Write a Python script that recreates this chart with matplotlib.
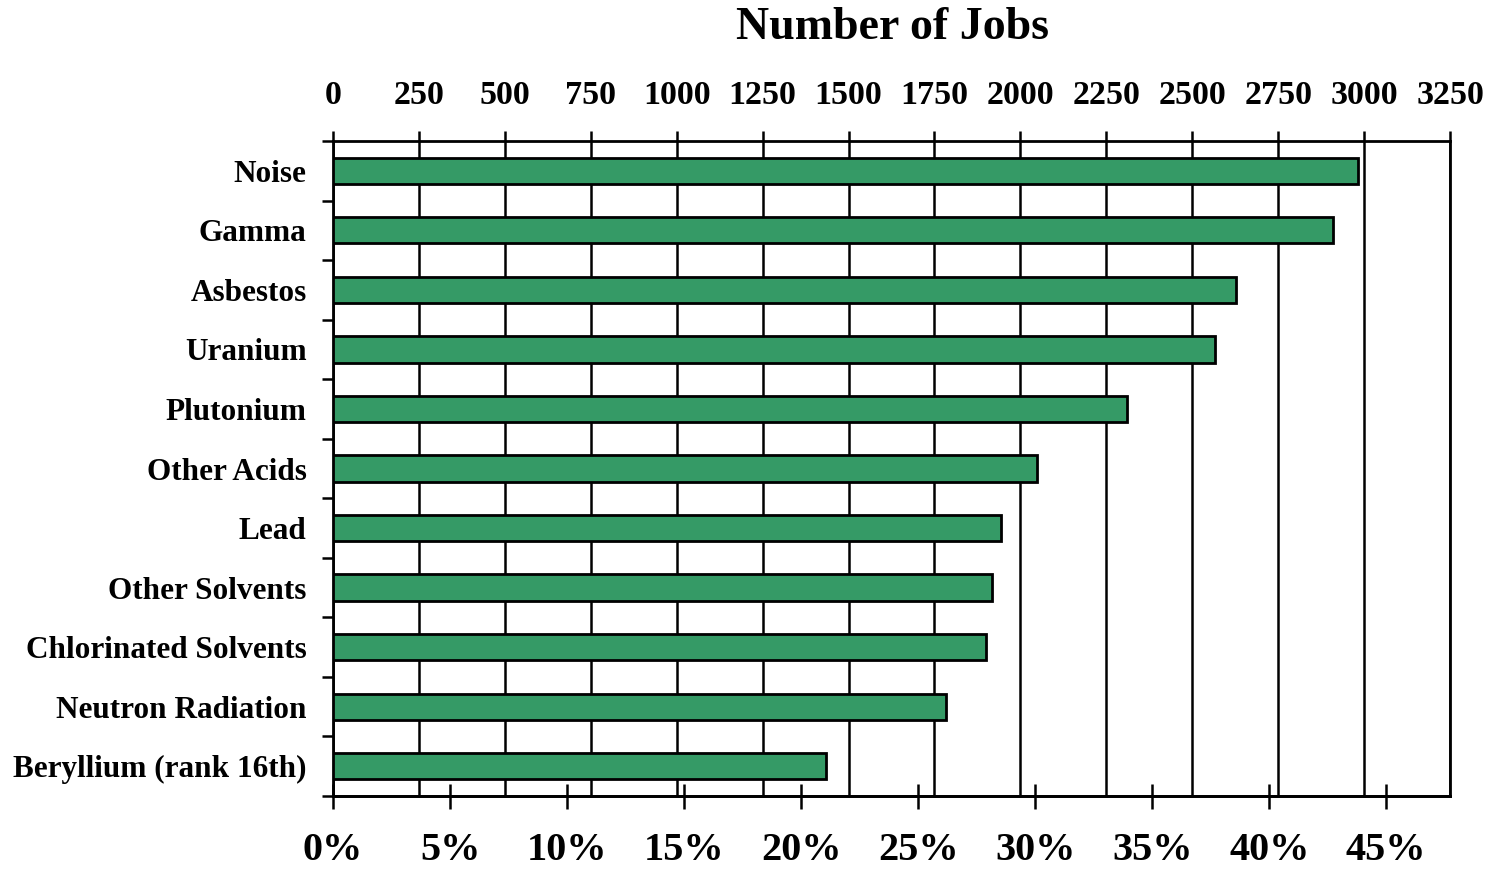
import matplotlib
matplotlib.use("Agg")
import matplotlib.pyplot as plt
from matplotlib.ticker import FuncFormatter, FixedLocator

categories = ["Noise", "Gamma", "Asbestos", "Uranium", "Plutonium", "Other Acids",
              "Lead", "Other Solvents", "Chlorinated Solvents", "Neutron Radiation",
              "Beryllium (rank 16th)"]
jobs = [2982, 2910, 2627, 2566, 2310, 2048, 1944, 1917, 1900, 1784, 1434]
job_ticks = list(range(0, 3251, 250))
pct_ticks = list(range(0, 46, 5))
total_jobs = 6810  # implied by 3250 jobs <-> ~47.7%

plt.rcParams['font.family'] = ['Liberation Serif', 'DejaVu Serif']
plt.rcParams['font.weight'] = 'bold'

fig = plt.figure(figsize=(14.96, 8.72), dpi=100)
ax = fig.add_axes([333/1496, 1-796/872, (1450-333)/1496, (796-141)/872])

y = list(range(len(categories)))
ax.barh(y, jobs, height=0.44, color='#359a66', edgecolor='black', linewidth=2, zorder=3)
ax.set_xlim(0, 3250)
ax.set_ylim(len(categories)-0.5, -0.5)

ax.xaxis.set_ticks_position('top')
ax.xaxis.set_label_position('top')
ax.set_xticks(job_ticks)
ax.set_xticklabels([str(t) for t in job_ticks])
ax.tick_params(axis='x', which='major', direction='out', length=7.5, width=1.8,
               labelsize=24.5, pad=14, colors='black')
ax.grid(axis='x', color='black', linewidth=1.8, zorder=1)

ax.set_yticks(y)
ax.set_yticklabels(categories, fontsize=22.5, fontweight='bold')
ax.tick_params(axis='y', which='major', length=0, pad=19)
ax.yaxis.set_minor_locator(FixedLocator([i - 0.5 for i in range(len(categories)+1)]))
ax.tick_params(axis='y', which='minor', direction='out', length=8, width=1.8)

for s in ax.spines.values():
    s.set_linewidth(2)

sec = ax.secondary_xaxis('bottom', functions=(lambda j: j / total_jobs * 100,
                                              lambda p: p * total_jobs / 100))
sec.set_xticks(pct_ticks)
sec.xaxis.set_major_formatter(FuncFormatter(lambda v, p: f"{int(round(v))}%"))
sec.tick_params(axis='x', direction='inout', length=18, width=1.8, labelsize=29, pad=17)
sec.spines['bottom'].set_linewidth(2)

fig.text(892/1496, 1-28/872, "Number of Jobs", ha='center', va='center',
         fontsize=33, fontweight='bold')

fig.savefig("out.png", dpi=100)
